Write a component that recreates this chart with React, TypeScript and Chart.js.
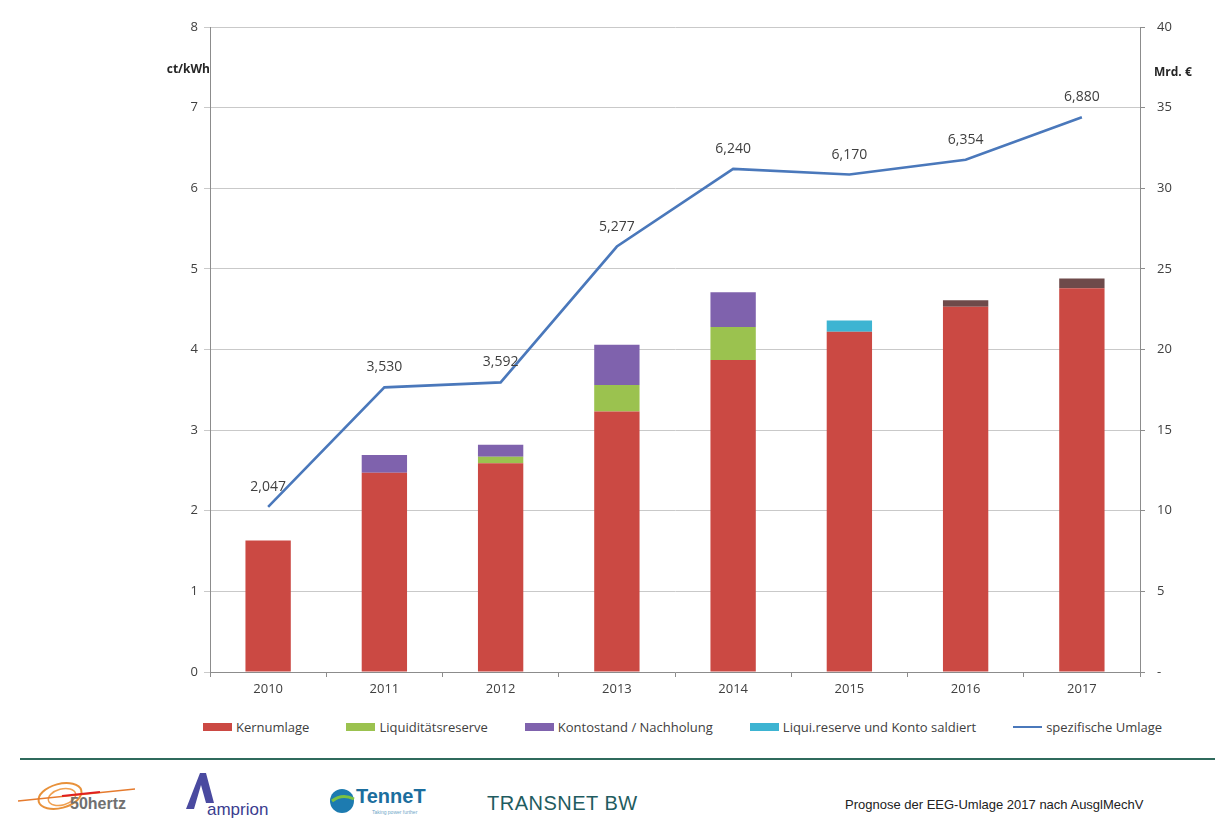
import React, { useEffect, useRef } from "react";
import { Chart, registerables } from "chart.js";

Chart.register(...registerables);

const years = ["2010", "2011", "2012", "2013", "2014", "2015", "2016", "2017"];
const kernumlage = [1.63, 2.47, 2.59, 3.23, 3.87, 4.22, 4.53, 4.76];
const liquiditaetsreserve = [0, 0, 0.08, 0.33, 0.41, 0, 0, 0];
const kontostand = [0, 0.22, 0.15, 0.5, 0.43, 0, 0.08, 0.12];
const saldiert = [0, 0, 0, 0, 0, 0.14, 0, 0];
const spezifischeUmlage = [2.047, 3.53, 3.592, 5.277, 6.24, 6.17, 6.354, 6.88];
const leftTicks = [0, 1, 2, 3, 4, 5, 6, 7, 8];
const rightTicks = [0, 5, 10, 15, 20, 25, 30, 35, 40];
const seriesNames = [
  "Kernumlage",
  "Liquiditätsreserve",
  "Kontostand / Nachholung",
  "Liqui.reserve und Konto saldiert",
  "spezifische Umlage",
];

const RED = "#cb4943";
const GREEN = "#9bc24f";
const PURPLE = "#7f62ad";
const KONTO_DARK = "#6e4a4a";
const CYAN = "#3db4d2";
const BLUE = "#4a78bb";
const seriesColors = [RED, GREEN, PURPLE, CYAN, BLUE];
const FONT = "'Open Sans', 'Noto Sans', sans-serif";

const fmt = (v: number) => v.toFixed(3).replace(".", ",");

const lineLabels = {
  id: "lineLabels",
  afterDatasetsDraw(chart: any) {
    const meta = chart.getDatasetMeta(4);
    if (!meta || meta.hidden) return;
    const ctx = chart.ctx;
    ctx.save();
    ctx.font = `14px ${FONT}`;
    ctx.fillStyle = "#404040";
    ctx.textAlign = "center";
    ctx.textBaseline = "middle";
    meta.data.forEach((pt: any, i: number) => {
      ctx.fillText(fmt(spezifischeUmlage[i]), pt.x, pt.y - 20);
    });
    ctx.restore();
  },
};

export default function App() {
  const ref = useRef<HTMLCanvasElement | null>(null);

  useEffect(() => {
    if (!ref.current) return;
    const kontoColors = kontostand.map((_, i) => (i >= 6 ? KONTO_DARK : PURPLE));
    const chart = new Chart(ref.current, {
      type: "bar",
      data: {
        labels: years,
        datasets: [
          { label: seriesNames[0], data: kernumlage, backgroundColor: RED, stack: "s", yAxisID: "y", order: 2 },
          { label: seriesNames[1], data: liquiditaetsreserve, backgroundColor: GREEN, stack: "s", yAxisID: "y", order: 2 },
          { label: seriesNames[2], data: kontostand, backgroundColor: kontoColors, stack: "s", yAxisID: "y", order: 2 },
          { label: seriesNames[3], data: saldiert, backgroundColor: CYAN, stack: "s", yAxisID: "y", order: 2 },
          {
            type: "line",
            label: seriesNames[4],
            data: spezifischeUmlage,
            borderColor: BLUE,
            backgroundColor: BLUE,
            borderWidth: 2.6,
            pointRadius: 0,
            tension: 0,
            yAxisID: "y",
            order: 1,
          } as any,
        ],
      },
      options: {
        responsive: false,
        animation: false,
        layout: { padding: { top: 27, left: 169, right: 0, bottom: 0 } },
        datasets: { bar: { categoryPercentage: 1, barPercentage: 0.39 } },
        plugins: {
          tooltip: { enabled: false },
          legend: { display: false },
        },
        scales: {
          x: {
            afterFit: (s: any) => {
              s.height = 30;
            },
            border: { color: "#8c8c8c" },
            grid: { display: true, drawOnChartArea: false, offset: true, tickLength: 5, color: "#8c8c8c" },
            ticks: { color: "#404040", font: { family: FONT, size: 13 }, padding: 4 },
          },
          y: {
            position: "left",
            min: 0,
            max: 8,
            afterFit: (s: any) => {
              s.width = 41;
            },
            afterBuildTicks: (s: any) => {
              s.ticks = leftTicks.map((v) => ({ value: v }));
            },
            border: { color: "#8c8c8c" },
            grid: { color: "#c9c9c9", tickLength: 6 },
            ticks: { color: "#404040", font: { family: FONT, size: 13 }, padding: 6 },
          },
          y2: {
            position: "right",
            min: 0,
            max: 40,
            afterFit: (s: any) => {
              s.width = 75;
            },
            afterBuildTicks: (s: any) => {
              s.ticks = rightTicks.map((v) => ({ value: v }));
            },
            border: { color: "#8c8c8c" },
            grid: { drawOnChartArea: false, tickLength: 5, color: "#8c8c8c" },
            ticks: {
              color: "#404040",
              font: { family: FONT, size: 13 },
              padding: 12,
              callback: (v: any) => (Number(v) === 0 ? "-" : String(v)),
            },
          },
        },
      },
      plugins: [lineLabels],
    } as any);
    return () => chart.destroy();
  }, []);

  return (
    <div
      style={{
        position: "fixed",
        left: 0,
        top: 0,
        width: 1215,
        height: 823,
        background: "#ffffff",
        overflow: "hidden",
        fontFamily: FONT,
      }}
    >
      <canvas ref={ref} width={1215} height={702} style={{ position: "absolute", left: 0, top: 0 }} />
      <div
        style={{
          position: "absolute",
          left: 203,
          top: 717,
          display: "flex",
          alignItems: "center",
          gap: 37,
          fontSize: 13,
          color: "#404040",
          lineHeight: "20px",
          whiteSpace: "nowrap",
        }}
      >
        {seriesNames.map((name, i) => (
          <div key={name} style={{ display: "flex", alignItems: "center" }}>
            <span
              style={{
                display: "inline-block",
                width: 29,
                height: i === 4 ? 2.5 : 8,
                background: seriesColors[i],
                marginRight: 4,
              }}
            />
            <span>{name}</span>
          </div>
        ))}
      </div>
      <div
        style={{
          position: "absolute",
          left: 150,
          top: 60,
          width: 60,
          textAlign: "right",
          fontWeight: 700,
          fontSize: 12,
          color: "#262626",
          lineHeight: "18px",
        }}
      >
        ct/kWh
      </div>
      <div
        style={{
          position: "absolute",
          left: 1154,
          top: 63,
          fontWeight: 700,
          fontSize: 12,
          color: "#262626",
          lineHeight: "18px",
        }}
      >
        Mrd. €
      </div>
      <div style={{ position: "absolute", left: 20, top: 758, width: 1195, height: 2, background: "#2f6a5c" }} />
      <svg width={1215} height={60} style={{ position: "absolute", left: 0, top: 763 }}>
        <ellipse cx={60} cy={33} rx={22} ry={12} fill="none" stroke="#e8913a" strokeWidth={2} transform="rotate(-15 60 33)" />
        <ellipse cx={62} cy={34} rx={14} ry={8} fill="none" stroke="#f0a050" strokeWidth={1.5} transform="rotate(-15 62 34)" />
        <line x1={18} y1={38} x2={135} y2={26} stroke="#e57b2e" strokeWidth={1.5} />
        <line x1={62} y1={33} x2={100} y2={29} stroke="#e02020" strokeWidth={2} />
        <text x={70} y={46} fontFamily="'Liberation Sans', sans-serif" fontWeight={700} fontSize={16} fill="#707070">
          50hertz
        </text>
        <path d="M186 46 L200 10 L206 10 L214 40 L206 40 L201 22 L194 46 Z" fill="#4a4aa0" />
        <text x={207} y={52} fontFamily="'Liberation Sans', sans-serif" fontSize={17} fill="#3b3d8f">
          amprion
        </text>
        <circle cx={342} cy={38} r={12} fill="#1d7bb0" />
        <path d="M332 38 Q342 30 354 36" stroke="#7cc242" strokeWidth={3} fill="none" />
        <text x={356} y={40} fontFamily="'Liberation Sans', sans-serif" fontWeight={700} fontSize={20} fill="#1b6e9e">
          TenneT
        </text>
        <text x={372} y={51} fontFamily="'Liberation Sans', sans-serif" fontSize={5} fill="#6fa8c8">
          Taking power further
        </text>
        <text x={487} y={47} fontFamily="'Liberation Sans Narrow', 'Liberation Sans', sans-serif" fontSize={20} fill="#1f5c60" letterSpacing={0.5}>
          TRANSNET BW
        </text>
        <text x={845} y={46} fontFamily="'Liberation Sans', Arial, sans-serif" fontSize={13} fill="#222222">
          Prognose der EEG-Umlage 2017 nach AusglMechV
        </text>
      </svg>
    </div>
  );
}
